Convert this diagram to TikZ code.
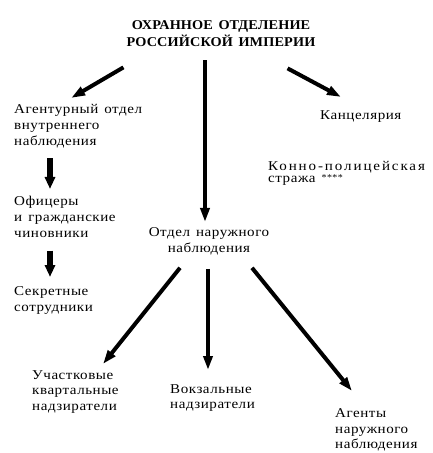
\documentclass[tikz,border=0pt]{standalone}
\usepackage{fontspec}
\setmainfont{Liberation Serif}[FakeStretch=1.12,LetterSpace=4,WordSpace=1.4]
\newfontfamily\titlefont{Liberation Serif}[FakeStretch=1.06,LetterSpace=1,WordSpace=1.5]
\newfontfamily\widefont{Liberation Serif}[FakeStretch=1.12,LetterSpace=14,WordSpace=1.4]
\usetikzlibrary{arrows.meta}

\tikzset{
  lbl/.style={inner sep=0pt, align=left, font=\fontsize{13.5}{16}\selectfont},
  bigarrow/.style={line width=4bp, -{Triangle[length=14bp,width=9bp]}},
  smallarrow/.style={line width=5.5bp, -{Triangle[length=12bp,width=10bp]}}
}

\begin{document}
\begin{tikzpicture}[x=1bp,y=-1bp]
        \useasboundingbox (0,0) rectangle (432,453);
        % top
        \node[lbl, anchor=north, align=center, font=\titlefont\fontsize{13.5}{17}\selectfont\bfseries] (okhrana) at (221,20) {ОХРАННОЕ ОТДЕЛЕНИЕ\\РОССИЙСКОЙ ИМПЕРИИ};
        % left column
        \node[lbl, anchor=north west] (agent) at (14,104) {Агентурный отдел\\внутреннего\\наблюдения};
        \node[lbl, anchor=north west] (ofitsery) at (14,196) {Офицеры\\и гражданские\\чиновники};
        \node[lbl, anchor=north west] (sekret) at (14,286) {Секретные\\сотрудники};
        % right column
        \node[lbl, anchor=north west] (kants) at (320,110) {Канцелярия};
        \node[lbl, anchor=north west, font=\fontsize{13.5}{12.5}\selectfont] (konno) at (268,161)
          {{\widefont Конно-полицейская}\\стража {\fontsize{9}{9}\selectfont\raisebox{2bp}{****}}};
        % middle
        \node[lbl, anchor=north, align=center] (naruzh) at (209,227) {Отдел наружного\\наблюдения};
        \node[lbl, anchor=north west] (uchast) at (32,370) {Участковые\\квартальные\\надзиратели};
        \node[lbl, anchor=north west] (vokzal) at (170,384) {Вокзальные\\надзиратели};
        \node[lbl, anchor=north west] (agenty) at (335,408) {Агенты\\наружного\\наблюдения};

        \draw[bigarrow] ([shift={(-3,21)}]okhrana.south west) -- ([shift={(-7,-6)}]agent.north);
        \draw[bigarrow] ([shift={(-16,14)}]okhrana.south) -- ([shift={(-4,-5)}]naruzh.north);
        \draw[bigarrow] ([shift={(-28,22)}]okhrana.south east) -- ([shift={(21,-13)}]kants.north west);
        \draw[smallarrow] ([shift={(36,10)}]agent.south west) -- ([shift={(36,-7)}]ofitsery.north west);
        \draw[smallarrow] ([shift={(36,13)}]ofitsery.south west) -- ([shift={(36,-9)}]sekret.north west);
        \draw[bigarrow] ([shift={(-29,13)}]naruzh.south) -- ([shift={(71,-6)}]uchast.north west);
        \draw[bigarrow] ([shift={(-1,14)}]naruzh.south) -- ([shift={(38,-14)}]vokzal.north west);
        \draw[bigarrow] ([shift={(43,13)}]naruzh.south) -- ([shift={(17,-17)}]agenty.north west);
      \end{tikzpicture}
\end{document}
